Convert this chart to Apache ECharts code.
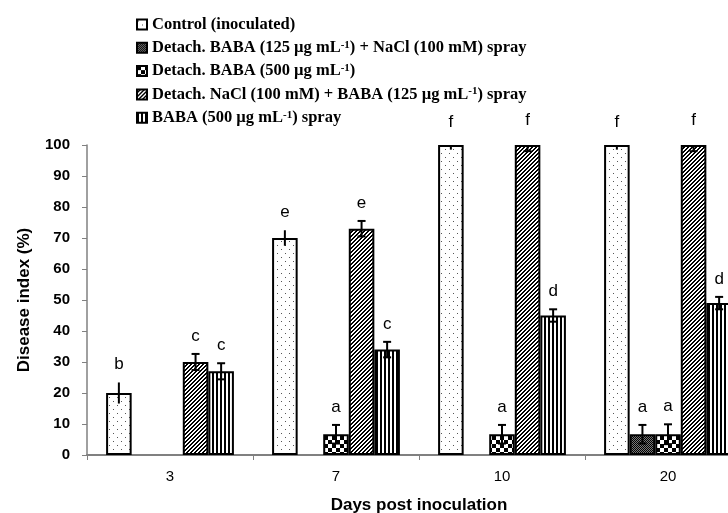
<!DOCTYPE html>
<html>
<head>
<meta charset="utf-8">
<script src="https://cdn.jsdelivr.net/npm/echarts@6/dist/echarts.min.js"></script>
<style>html,body{margin:0;padding:0;background:#fff;overflow:hidden;width:728px;height:513px}#c{position:absolute;left:0;top:0;width:751px;height:513px}</style>
</head>
<body>
<div id="c"></div>
<script>
// ---- data ----
const categories = ['3', '7', '10', '20'];
const seriesNames = [
  'Control (inoculated)',
  'Detach. BABA (125 µg mL-1) + NaCl (100 mM) spray',
  'Detach. BABA (500 µg mL-1)',
  'Detach. NaCl (100 mM) + BABA (125 µg mL-1) spray',
  'BABA (500 µg mL-1) spray'
];
const controlValues = [20, 70, 100, 100];
const babaNaclSprayValues = [0, 0, 0, 6.7];
const detachBaba500Values = [0, 6.7, 6.7, 6.7];
const naclBabaSprayValues = [30, 73, 100, 100];
const baba500SprayValues = [27, 34, 45, 49];

const controlErr = [3.4, 2.5, 1.5, 1.5];
const babaNaclSprayErr = [0, 0, 0, 3];
const detachBaba500Err = [0, 3, 3, 3.2];
const naclBabaSprayErr = [2.6, 2.5, 2, 2];
const baba500SprayErr = [2.6, 2.5, 2, 2];

const controlLetters = ['b', 'e', 'f', 'f'];
const babaNaclSprayLetters = ['', '', '', 'a'];
const detachBaba500Letters = ['', 'a', 'a', 'a'];
const naclBabaSprayLetters = ['c', 'e', 'f', 'f'];
const baba500SprayLetters = ['c', 'c', 'd', 'd'];

const yTicks = { min: 0, max: 100, interval: 10 };

const allValues = [controlValues, babaNaclSprayValues, detachBaba500Values, naclBabaSprayValues, baba500SprayValues];
const allErr = [controlErr, babaNaclSprayErr, detachBaba500Err, naclBabaSprayErr, baba500SprayErr];
const allLetters = [controlLetters, babaNaclSprayLetters, detachBaba500Letters, naclBabaSprayLetters, baba500SprayLetters];

// ---- patterns ----
function makeCanvas(w, h, draw) {
  const c = document.createElement('canvas');
  c.width = w; c.height = h;
  const ctx = c.getContext('2d');
  ctx.fillStyle = '#fff'; ctx.fillRect(0, 0, w, h);
  draw(ctx);
  return c;
}
const patDots = makeCanvas(8, 8, ctx => {
  ctx.fillStyle = '#555';
  ctx.fillRect(1, 1, 1, 1); ctx.fillRect(5, 5, 1, 1);
});
const patFine = makeCanvas(2, 2, ctx => {
  ctx.fillStyle = '#777'; ctx.fillRect(0, 0, 2, 2);
  ctx.fillStyle = '#000'; ctx.fillRect(0, 0, 1, 1); ctx.fillRect(1, 1, 1, 1);
});
const patChecker = makeCanvas(8, 8, ctx => {
  ctx.fillStyle = '#000'; ctx.fillRect(0, 0, 4, 4); ctx.fillRect(4, 4, 4, 4);
});
const patDiag = makeCanvas(4, 4, ctx => {
  ctx.fillStyle = '#000';
  for (let x = 0; x < 4; x++) for (let y = 0; y < 4; y++) {
    if (((x + y) % 4) === 3 || ((x + y) % 4) === 2) ctx.fillRect(x, y, 1, 1);
  }
});
const patVert = makeCanvas(4, 4, ctx => {
  ctx.fillStyle = '#000'; ctx.fillRect(0, 0, 2, 4);
});
const patterns = [patDots, patFine, patChecker, patDiag, patVert];
const capWidths = [0, 8, 8, 8, 8];

const GAP = 0.23;
const chart = echarts.init(document.getElementById('c'), null, { renderer: 'canvas', width: 751, height: 513 });

const series = [];
seriesNames.forEach((name, k) => {
  series.push({
    name: name,
    type: 'bar',
    barGap: '0%',
    barCategoryGap: (GAP * 100) + '%',
    data: allValues[k].map(v => v === 0 ? '-' : v),
    itemStyle: { color: { image: patterns[k], repeat: 'repeat' }, borderColor: '#000', borderWidth: 2 },
    emphasis: { disabled: true },
    z: 2
  });
});
seriesNames.forEach((name, k) => {
  series.push({
    type: 'custom',
    name: name + ' err',
    z: 3,
    silent: true,
    data: categories.map((c, i) => [i, allValues[k][i], allErr[k][i]]),
    renderItem: function (params, api) {
      const i = api.value(0), v = api.value(1), e = api.value(2);
      const letter = allLetters[k][i];
      const bandW = api.size([1, 0])[0];
      const barW = bandW * (1 - GAP) / 5;
      const cx = api.coord([i, 0])[0] + (k - 2) * barW;
      const children = [];
      let topY = api.coord([i, v])[1];
      if (v > 0 && e > 0) {
        const hi = Math.min(v + e, yTicks.max);
        const y1 = api.coord([i, hi])[1];
        const y2 = api.coord([i, v - e])[1];
        topY = api.coord([i, v + e])[1];
        const st = { stroke: '#000', lineWidth: 2 };
        children.push({ type: 'line', shape: { x1: cx, y1: y1, x2: cx, y2: y2 }, style: st });
        const cw = capWidths[k] / 2;
        if (cw > 0) {
          if (v + e <= yTicks.max) children.push({ type: 'line', shape: { x1: cx - cw, y1: y1, x2: cx + cw, y2: y1 }, style: st });
          children.push({ type: 'line', shape: { x1: cx - cw, y1: y2, x2: cx + cw, y2: y2 }, style: st });
        }
      }
      if (letter) {
        children.push({
          type: 'text',
          style: {
            text: letter, x: cx, y: topY - 18, align: 'center', verticalAlign: 'middle',
            font: '17px "Liberation Sans", Arial, sans-serif', fill: '#000'
          }
        });
      }
      return { type: 'group', children: children };
    }
  });
});

const legendFmt = n => n.replace('mL-1', 'mL{sup|-1}');

chart.setOption({
  animation: false,
  backgroundColor: '#fff',
  grid: { left: 87, right: 0, top: 145, bottom: 58, containLabel: false, outerBoundsMode: 'none' },
  legend: {
    data: seriesNames,
    orient: 'vertical',
    left: 131,
    top: 11,
    itemWidth: 10,
    itemHeight: 10,
    itemGap: 6.3,
    icon: 'rect',
    selectedMode: false,
    formatter: legendFmt,
    textStyle: {
      fontFamily: '"Liberation Serif", "Times New Roman", serif',
      fontWeight: 'bold',
      fontSize: 16.5,
      lineHeight: 17,
      color: '#000',
      rich: {
        sup: { fontFamily: '"Liberation Serif", serif', fontWeight: 'bold', fontSize: 11, lineHeight: 10, verticalAlign: 'top', color: '#000' }
      }
    }
  },
  xAxis: {
    type: 'category',
    data: categories,
    axisLine: { lineStyle: { color: '#808080', width: 2 } },
    axisTick: { show: true, length: 5, lineStyle: { color: '#808080', width: 1 } },
    axisLabel: { fontFamily: '"Liberation Sans", Arial, sans-serif', fontSize: 15, color: '#000', margin: 14 },
    name: 'Days post inoculation',
    nameLocation: 'middle',
    nameGap: 42,
    nameTextStyle: { fontFamily: '"Liberation Sans", Arial, sans-serif', fontWeight: 'bold', fontSize: 17, color: '#000' }
  },
  yAxis: {
    type: 'value',
    min: yTicks.min,
    max: yTicks.max,
    interval: yTicks.interval,
    axisLine: { show: true, lineStyle: { color: '#808080', width: 1.5 } },
    axisTick: { show: true, length: 5, lineStyle: { color: '#808080' } },
    splitLine: { show: false },
    axisLabel: { fontFamily: '"Liberation Sans", Arial, sans-serif', fontWeight: 'bold', fontSize: 15, color: '#000', margin: 17 },
    name: 'Disease index (%)',
    nameLocation: 'middle',
    nameGap: 54,
    nameTextStyle: { fontFamily: '"Liberation Sans", Arial, sans-serif', fontWeight: 'bold', fontSize: 17, color: '#000' }
  },
  series: series
});
</script>
</body>
</html>
